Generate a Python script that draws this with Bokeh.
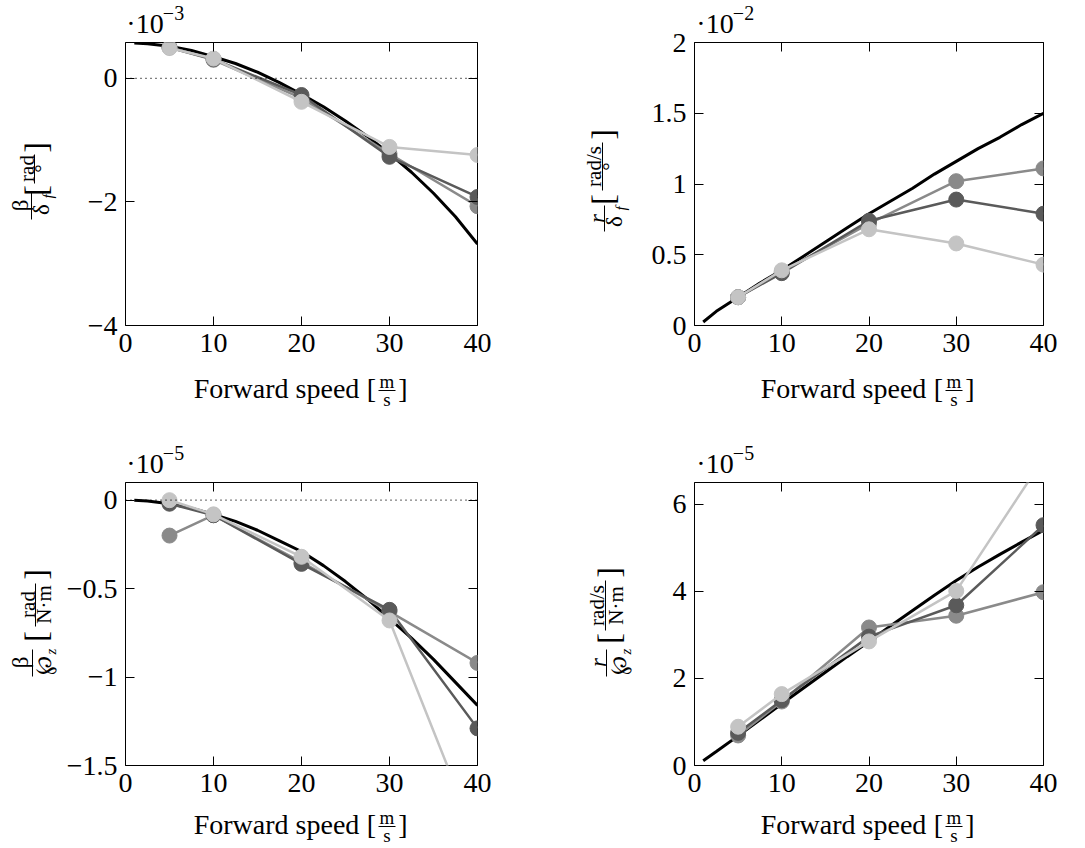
import math
from bokeh.plotting import figure
from bokeh.models import Range1d, LinearAxis, FixedTicker, Span, CustomJSTickFormatter
from bokeh.core.properties import value
from bokeh.layouts import row, column
from bokeh.embed import file_html
from bokeh.resources import INLINE

# ---------------- data ----------------
speed_model = [1, 2.5, 5, 7.5, 10, 12.5, 15, 17.5, 20, 22.5, 25, 27.5, 30, 32.5, 35, 37.5, 40]
speed_pts = [5, 10, 20, 30, 40]

# beta / delta_f  [x 1e-3 rad/deg]
bd_model = [0.57, 0.56, 0.52, 0.45, 0.35, 0.24, 0.10, -0.07, -0.26, -0.46, -0.69, -0.94,
            -1.22, -1.52, -1.86, -2.24, -2.68]
bd_dark = [0.50, 0.31, -0.27, -1.27, -1.92]
bd_mid = [0.50, 0.30, -0.32, -1.22, -2.07]
bd_light = [0.49, 0.32, -0.38, -1.11, -1.24]

# r / delta_f  [x 1e-2 (rad/s)/deg]
rd_model = [0.025, 0.10, 0.20, 0.30, 0.39, 0.49, 0.59, 0.69, 0.79, 0.88, 0.97, 1.07,
            1.16, 1.25, 1.33, 1.42, 1.50]
rd_dark = [0.20, 0.37, 0.74, 0.89, 0.79]
rd_mid = [0.20, 0.38, 0.72, 1.02, 1.11]
rd_light = [0.20, 0.39, 0.68, 0.58, 0.43]

# beta / T_z  [x 1e-5 rad/(N m)]
bt_model = [0.0, -0.004, -0.02, -0.045, -0.08, -0.12, -0.17, -0.23, -0.29, -0.37, -0.46,
            -0.56, -0.67, -0.78, -0.90, -1.03, -1.16]
bt_dark = [-0.02, -0.085, -0.36, -0.62, -1.29]
bt_mid = [-0.20, -0.085, -0.35, -0.63, -0.92]
bt_light = [0.0, -0.08, -0.32, -0.68, -1.93]

# r / T_z  [x 1e-5 (rad/s)/(N m)]
rt_model = [0.11, 0.32, 0.68, 1.05, 1.42, 1.78, 2.14, 2.50, 2.85, 3.21, 3.56, 3.91,
            4.25, 4.56, 4.85, 5.13, 5.40]
rt_dark = [0.75, 1.50, 2.96, 3.68, 5.52]
rt_mid = [0.69, 1.47, 3.17, 3.44, 3.98]
rt_light = [0.89, 1.64, 2.85, 4.01, 7.05]

x_ticks = [0, 10, 20, 30, 40]

FONT = "Liberation Serif"
C_DARK = "#5a5a5a"
C_MID = "#8a8a8a"
C_LIGHT = "#c4c4c4"
R = math.pi / 2

fmt = CustomJSTickFormatter(code="return tick.toString().replace('-', '\u2212');")
blank = CustomJSTickFormatter(code="return '';")


def make_fig(w, h, borders, yr, yticks):
    bl, br, bt, bb = borders
    p = figure(width=w, height=h, x_range=Range1d(0, 40), y_range=Range1d(*yr),
               output_backend="svg", toolbar_location=None,
               min_border_left=bl, min_border_right=br, min_border_top=bt, min_border_bottom=bb)
    p.title = None
    p.grid.visible = False
    p.outline_line_color = "black"
    p.outline_line_width = 1
    p.outline_line_alpha = 1
    p.add_layout(LinearAxis(), "above")
    p.add_layout(LinearAxis(), "right")
    for ax in list(p.xaxis) + list(p.yaxis):
        ax.axis_line_color = None
        ax.major_tick_in = 9
        ax.major_tick_out = 0
        ax.major_tick_line_color = "black"
        ax.major_tick_line_width = 1
        ax.minor_tick_line_color = None
        ax.major_label_text_font = FONT
        ax.major_label_text_font_size = "28px"
        ax.major_label_text_color = "black"
        ax.major_label_standoff = 8
        ax.formatter = fmt
    for ax in p.xaxis:
        ax.ticker = FixedTicker(ticks=x_ticks)
    for ax in p.yaxis:
        ax.ticker = FixedTicker(ticks=yticks)
    for ax in (p.above[0], p.right[0]):
        ax.formatter = blank
        ax.major_label_text_font_size = "1px"
        ax.major_label_standoff = 0
    p.add_layout(Span(location=0, dimension="width", line_color="black",
                      line_width=1.2, line_dash="1 4"))
    return p


def series(p, model, dark, mid, light):
    p.line(speed_model, model, line_color="black", line_width=3)
    for ys, c in ((mid, C_MID), (dark, C_DARK), (light, C_LIGHT)):
        p.line(speed_pts, ys, line_color=c, line_width=2.5)
        p.scatter(speed_pts, ys, size=15, fill_color=c, line_color=c)


def label_fig(x0, y0, w, h, bl=0, br=0):
    """A blank figure whose data coordinates equal page pixel coordinates.
    Its frame spans page x from x0+bl to x0+w-br (frames in a column are aligned)."""
    f = figure(width=w, height=h, x_range=Range1d(x0 + bl, x0 + w - br),
               y_range=Range1d(y0 + h, y0),
               output_backend="svg", toolbar_location=None,
               min_border_left=bl, min_border_right=br, min_border_top=0, min_border_bottom=0,
               x_axis_location=None, y_axis_location=None)
    f.title = None
    f.grid.visible = False
    f.outline_line_color = None
    return f


def txt(f, x, y, s, size, angle=0.0, style="normal"):
    f.text(x=[x], y=[y], text=[s], angle=angle, text_align="center", text_baseline="middle",
           text_font=value(FONT), text_font_size=value(f"{size}px"), text_font_style=style,
           text_color="black")


def bar(f, x0, y0, x1, y1):
    f.segment(x0=[x0], y0=[y0], x1=[x1], y1=[y1], line_color="black", line_width=1)


def xlabel(f, cx, by):
    txt(f, cx - 25, by - 9, "Forward speed", 28)
    txt(f, cx + 70, by - 9, "[", 28)
    txt(f, cx + 85.5, by - 16, "m", 19)
    bar(f, cx + 77, by - 7, cx + 94, by - 7)
    txt(f, cx + 85.5, by + 2, "s", 19)
    txt(f, cx + 101.5, by - 9, "]", 28)


def exponent(f, x, by, e):
    txt(f, x + 17.5, by - 9, "\u00b710", 28)
    txt(f, x + 46, by - 20, e, 20)


# ---------------- panel 1 (top left) ----------------
yl1 = label_fig(0, 0, 60, 420)
ex1 = label_fig(60, 0, 480, 40, 65, 63)
p1 = make_fig(480, 330, (65, 63, 2, 45), (-4, 0.58), [-4, -2, 0])
xl1 = label_fig(60, 370, 480, 50, 65, 63)
series(p1, bd_model, bd_dark, bd_mid, bd_light)
exponent(ex1, 127, 32, "\u22123")
xlabel(xl1, 301, 397)
txt(yl1, 20, 205, "\u03b2", 23, R)
bar(yl1, 31, 192, 31, 219)
txt(yl1, 41, 209, "\u03b4", 23, R)
txt(yl1, 47, 196, "f", 15, R, style="italic")
txt(yl1, 35, 190, "[", 32, R)
txt(yl1, 26, 168, "rad", 21, R)
bar(yl1, 34, 154, 34, 183)
txt(yl1, 41, 168, "\u00b0", 21, R)
txt(yl1, 35, 147, "]", 32, R)

# ---------------- panel 2 (top right) ----------------
yl2 = label_fig(540, 0, 95, 420)
ex2 = label_fig(635, 0, 449, 33, 59, 41)
p2 = make_fig(449, 337, (59, 41, 9, 45), (0, 2), [0, 0.5, 1, 1.5, 2])
xl2 = label_fig(635, 370, 449, 50, 59, 41)
series(p2, rd_model, rd_dark, rd_mid, rd_light)
exponent(ex2, 697, 32, "\u22122")
xlabel(xl2, 868, 397)
txt(yl2, 597, 218, "r", 23, R, style="italic")
bar(yl2, 604, 205, 604, 231)
txt(yl2, 614, 221, "\u03b4", 23, R)
txt(yl2, 620, 208, "f", 15, R, style="italic")
txt(yl2, 602, 199, "[", 32, R)
txt(yl2, 593, 166, "rad/s", 21, R)
bar(yl2, 602, 142, 602, 190)
txt(yl2, 609, 166, "\u00b0", 21, R)
txt(yl2, 602, 134, "]", 32, R)

# ---------------- panel 3 (bottom left) ----------------
yl3 = label_fig(0, 420, 60, 427)
ex3 = label_fig(60, 420, 480, 60, 65, 63)
p3 = make_fig(480, 328, (65, 63, 2, 43), (-1.5, 0.1), [-1.5, -1, -0.5, 0])
xl3 = label_fig(60, 808, 480, 39, 65, 63)
series(p3, bt_model, bt_dark, bt_mid, bt_light)
exponent(ex3, 127, 472, "\u22125")
xlabel(xl3, 301, 833)
txt(yl3, 20, 662, "\u03b2", 23, R)
bar(yl3, 32, 649, 32, 676)
txt(yl3, 43, 665, "\u2118", 23, R)
txt(yl3, 50, 651, "z", 15, R, style="italic")
txt(yl3, 35, 636, "[", 32, R)
txt(yl3, 27, 604, "rad", 21, R)
bar(yl3, 35, 583, 35, 626)
txt(yl3, 43, 604, "N\u00b7m", 21, R)
txt(yl3, 35, 574, "]", 32, R)

# ---------------- panel 4 (bottom right) ----------------
yl4 = label_fig(540, 420, 95, 427)
ex4 = label_fig(635, 420, 449, 60, 59, 41)
p4 = make_fig(449, 328, (59, 41, 2, 43), (0, 6.5), [0, 2, 4, 6])
xl4 = label_fig(635, 808, 449, 39, 59, 41)
series(p4, rt_model, rt_dark, rt_mid, rt_light)
exponent(ex4, 697, 472, "\u22125")
xlabel(xl4, 868, 833)
txt(yl4, 598, 662, "r", 23, R, style="italic")
bar(yl4, 606, 649, 606, 676)
txt(yl4, 618, 665, "\u2118", 23, R)
txt(yl4, 625, 651, "z", 15, R, style="italic")
txt(yl4, 608, 638, "[", 32, R)
txt(yl4, 596, 605, "rad/s", 21, R)
bar(yl4, 605, 580, 605, 630)
txt(yl4, 615, 605, "N\u00b7m", 21, R)
txt(yl4, 608, 572, "]", 32, R)

top = row(row(yl1, column(ex1, p1, xl1)), row(yl2, column(ex2, p2, xl2)))
bottom = row(row(yl3, column(ex3, p3, xl3)), row(yl4, column(ex4, p4, xl4)))
layout = column(top, bottom)
open("out.html", "w").write(file_html(layout, INLINE))
